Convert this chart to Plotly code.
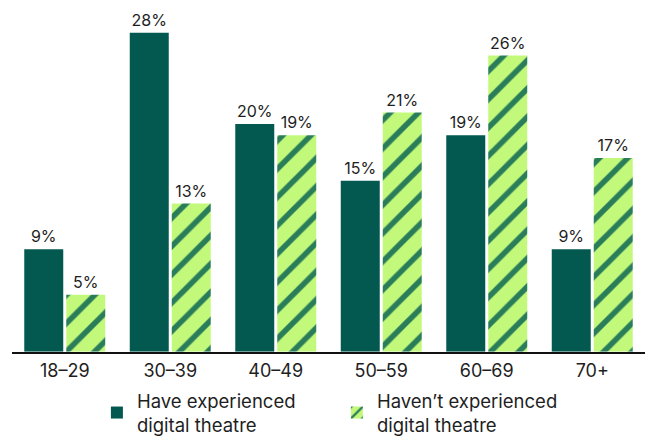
import plotly.graph_objects as go

# Age bands and share of each audience group (%)
age_groups = ["18–29", "30–39", "40–49", "50–59", "60–69", "70+"]
experienced = [9, 28, 20, 15, 19, 9]
not_experienced = [5, 13, 19, 21, 26, 17]

series_names = [
    "Have experienced<br>digital theatre",
    "Haven’t experienced<br>digital theatre",
]

DARK = "#03594F"
LIGHT = "#C3F97B"
STRIPE = "#2A7D59"
FONT = "Inter"
TEXT = "#1E1E1E"

fig = go.Figure()
fig.add_trace(go.Bar(
    x=age_groups, y=experienced, name=series_names[0],
    marker=dict(color=DARK, line=dict(width=0)),
    text=[f"{v}%" for v in experienced], textposition="outside",
    textfont=dict(size=16, color=TEXT, family=FONT),
    cliponaxis=False,
))
fig.add_trace(go.Bar(
    x=age_groups, y=not_experienced, name=series_names[1],
    marker=dict(
        color=LIGHT, line=dict(width=0),
        pattern=dict(shape="/", fgcolor=STRIPE, bgcolor=LIGHT,
                     size=20, solidity=0.28, fillmode="replace"),
    ),
    text=[f"{v}%" for v in not_experienced], textposition="outside",
    textfont=dict(size=16, color=TEXT, family=FONT),
    cliponaxis=False,
))

fig.update_layout(
    width=646, height=444,
    margin=dict(l=12, r=1, t=10, b=91),
    paper_bgcolor="white", plot_bgcolor="white",
    barmode="group", bargap=0.204, bargroupgap=0.0714,
    font=dict(family=FONT, size=17, color=TEXT),
    showlegend=True,
    legend=dict(
        orientation="h",
        xref="container", x=0.15, xanchor="left",
        yref="container", y=-0.02, yanchor="bottom",
        font=dict(size=18.5, color=TEXT, family=FONT),
        entrywidth=195, entrywidthmode="pixels",
        tracegroupgap=0, itemclick=False, itemdoubleclick=False,
    ),
)
fig.update_xaxes(
    showline=True, linecolor="#111111", linewidth=1.5,
    ticks="", tickfont=dict(size=18, color=TEXT, family=FONT),
    ticklabelstandoff=2, showgrid=False,
)
fig.update_yaxes(
    range=[0, 30], visible=False, showgrid=False, zeroline=False,
)

fig.write_html("out.html")
